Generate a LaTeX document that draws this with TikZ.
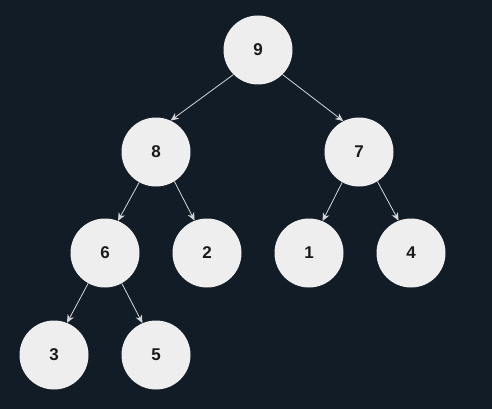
\documentclass[tikz,border=0pt]{standalone}
\usepackage{fontspec}
\setmainfont{Liberation Sans}
\usetikzlibrary{arrows.meta}
\definecolor{bgnavy}{HTML}{111C26}
\definecolor{heapfill}{HTML}{EEEEEE}
\definecolor{edgegray}{HTML}{D6D6D6}
\definecolor{digitdark}{HTML}{1A1A1A}

\begin{document}
\begin{tikzpicture}[x=1pt, y=-1pt, every node/.style={circle, fill=heapfill, draw=none, minimum size=69pt, inner sep=0pt, text=digitdark, font=\fontsize{17}{17}\selectfont\bfseries}]

        % Background
        \fill[bgnavy] (0, 0) rectangle (492, 409);
        \useasboundingbox (0, 0) rectangle (492, 409);

        % Edge style
        \tikzset{heapedge/.style={draw=edgegray, line width=0.8pt, -{Stealth[length=8pt, width=7pt, inset=2.5pt]}}}

        % Root
        \node (n9) at (258, 50) {9};

        % Second level
        \node (n8) at (156, 152) {8};
        \node (n7) at (359, 152) {7};

        % Third level
        \node (n6) at (105, 253) {6};
        \node (n2) at (207, 253) {2};
        \node (n1) at (309, 253) {1};
        \node (n4) at (411, 253) {4};

        % Fourth level
        \node (n3) at (54, 355) {3};
        \node (n5) at (156, 355) {5};

        % Edges from parent to child
        \draw[heapedge] (n9.225) -- (n8.65);
        \draw[heapedge] (n9.315) -- (n7.117);

        \draw[heapedge] (n8.241) -- (n6.68);
        \draw[heapedge] (n8.302) -- (n2.111);

        \draw[heapedge] (n7.241) -- (n1.67);
        \draw[heapedge] (n7.302) -- (n4.111);

        \draw[heapedge] (n6.241) -- (n3.68);
        \draw[heapedge] (n6.299) -- (n5.113);

      \end{tikzpicture}
\end{document}
